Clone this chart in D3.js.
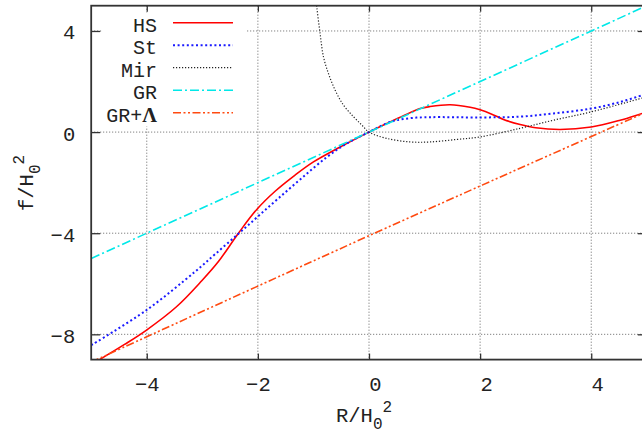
<!DOCTYPE html>
<html>
<head>
<meta charset="utf-8">
<script src="https://cdn.jsdelivr.net/npm/d3@7"></script>
<style>
  html, body { margin: 0; padding: 0; background: #fff; }
  svg { display: block; }
  text { font-family: "Liberation Mono", "DejaVu Sans Mono", monospace; fill: #222; }
</style>
</head>
<body>
<svg id="chart" width="642" height="434"></svg>
<script>
// ---- data ----
const xTicks = [-4, -2, 0, 2, 4];
const yTicks = [-8, -4, 0, 4];

const seriesNames = ["HS", "St", "Mir", "GR", "GR+Λ"];

// Hu–Sawicki (HS)
const hsR = [-5.0, -4.82, -4.40, -4.01, -3.47, -3.01, -2.71, -2.35, -2.02, -1.69, -1.33, -1.00, -0.52, 0.0,
             0.32, 0.62, 0.92, 1.10, 1.46, 1.82, 2.00, 2.20, 2.42, 2.72, 3.00, 3.44, 4.00, 4.52, 4.92, 5.0];
const hsF = [-9.19, -8.96, -8.40, -7.84, -6.92, -5.88, -5.12, -4.00, -3.06, -2.34, -1.70, -1.18, -0.59, 0.0,
             0.34, 0.65, 0.93, 1.01, 1.08, 0.98, 0.88, 0.72, 0.50, 0.30, 0.17, 0.10, 0.20, 0.47, 0.74, 0.79];

// Starobinsky (St)
const stR = [-5.0, -4.01, -3.13, -2.77, -2.35, -1.99, -1.63, -1.21, -0.76, -0.40, 0.0,
             0.38, 0.74, 1.10, 2.00, 2.72, 3.32, 4.00, 4.52, 4.92, 5.0];
const stF = [-8.43, -7.05, -5.52, -4.83, -4.02, -3.32, -2.62, -1.82, -0.99, -0.45, 0.0,
             0.40, 0.55, 0.59, 0.58, 0.61, 0.74, 0.93, 1.19, 1.46, 1.51];

// Miranda et al. (Mir)
const mirR = [-0.97, -0.94, -0.88, -0.82, -0.73, -0.61, -0.46, -0.28, -0.13, 0.0,
              0.32, 0.74, 1.10, 1.58, 2.00, 2.72, 3.32, 4.00, 4.92, 5.0];
const mirF = [5.60, 4.95, 3.90, 2.98, 2.32, 1.66, 1.07, 0.61, 0.28, 0.0,
              -0.25, -0.39, -0.39, -0.29, -0.19, 0.15, 0.47, 0.80, 1.35, 1.40];

// GR
const grR = [-5.0, 5.0];
const grF = [-5.0, 5.0];

// GR + Lambda
const glR = [-5.0, 0.0, 5.0];
const glF = [-9.10, -4.10, 0.80];

// ---- drawing ----
const svg = d3.select("#chart");
const L = 91.2, R = 646.8, T = 5.7, B = 359.6;
const x = d3.scaleLinear().domain([-5, 5]).range([L, R]);
const y = d3.scaleLinear().domain([-9, 5]).range([B, T]);

const styles = [
  { color: "#ff0000", width: 1.6, dash: null },
  { color: "#1a1aff", width: 2.0, dash: "2,2.6" },
  { color: "#222222", width: 1.2, dash: "1.2,1.8" },
  { color: "#00e8e8", width: 1.6, dash: "9,3,2,3" },
  { color: "#ff4a10", width: 1.6, dash: "8,2.5,2,2.5,2,2.5" }
];

svg.append("defs").append("clipPath").attr("id", "clip")
  .append("rect").attr("x", L).attr("y", T).attr("width", R - L).attr("height", B - T);

// grid
const grid = svg.append("g").attr("stroke", "#666").attr("stroke-width", 1)
  .attr("stroke-dasharray", "1,2").attr("fill", "none");
grid.selectAll("line.v").data(xTicks).join("line").attr("class", "v")
  .attr("x1", d => x(d)).attr("x2", d => x(d)).attr("y1", T).attr("y2", B);
grid.selectAll("line.h").data(yTicks).join("line").attr("class", "h")
  .attr("x1", L).attr("x2", R).attr("y1", d => y(d)).attr("y2", d => y(d));

// curves
const series = [
  [hsR, hsF], [stR, stF], [mirR, mirF], [grR, grF], [glR, glF]
];
const line = d3.line().x(d => x(d[0])).y(d => y(d[1])).curve(d3.curveCatmullRom.alpha(0.5));
const curves = svg.append("g").attr("clip-path", "url(#clip)");
series.forEach((s, i) => {
  const pts = s[0].map((r, k) => [r, s[1][k]]);
  curves.append("path").datum(pts).attr("d", line)
    .attr("fill", "none").attr("stroke", styles[i].color)
    .attr("stroke-width", styles[i].width)
    .attr("stroke-dasharray", styles[i].dash);
});

// legend (opaque key box)
svg.append("rect").attr("x", 101.5).attr("y", 12.5).attr("width", 145).attr("height", 114)
  .attr("fill", "#fff");
const leg = svg.append("g");
seriesNames.forEach((name, i) => {
  const base = 31.7 + i * 22.5;
  const t = leg.append("text").attr("x", 157).attr("y", base)
    .attr("text-anchor", "end").attr("font-size", 20);
  if (name.endsWith("Λ")) {
    t.append("tspan").text("GR+");
    t.append("tspan").text("Λ").attr("font-family", "Liberation Serif")
      .attr("font-size", 20.5).attr("font-weight", "bold");
  } else {
    t.text(name);
  }
  leg.append("line").attr("x1", 173).attr("x2", 233)
    .attr("y1", base - 9).attr("y2", base - 9)
    .attr("stroke", styles[i].color).attr("stroke-width", styles[i].width)
    .attr("stroke-dasharray", styles[i].dash);
});

// axes (ticks inward, mirrored)
const fmt = d => (d < 0 ? "\u2212" + Math.abs(d) : String(d));
const axStyle = g => {
  g.select(".domain").remove();
  g.selectAll(".tick line").attr("stroke", "#333").attr("stroke-width", 1.3);
};
svg.append("g").attr("transform", `translate(0,${B})`)
  .call(d3.axisBottom(x).tickValues(xTicks).tickSize(-6).tickFormat(fmt))
  .call(axStyle)
  .call(g => g.selectAll(".tick text")
    .attr("y", 31).attr("dy", 0).attr("font-size", 20.5)
    .attr("font-family", "Liberation Mono").attr("fill", "#222")
    .attr("dx", d => d >= 0 ? 6 : 0));
svg.append("g").attr("transform", `translate(0,${T})`)
  .call(d3.axisTop(x).tickValues(xTicks).tickSize(-6).tickFormat(""))
  .call(axStyle);
svg.append("g").attr("transform", `translate(${L},0)`)
  .call(d3.axisLeft(y).tickValues(yTicks).tickSize(-9).tickFormat(fmt))
  .call(axStyle)
  .call(g => g.selectAll(".tick text")
    .attr("x", -16).attr("dy", 8).attr("font-size", 20.5)
    .attr("font-family", "Liberation Mono").attr("fill", "#222"));
svg.append("g").attr("transform", `translate(${R},0)`)
  .call(d3.axisRight(y).tickValues(yTicks).tickSize(-9).tickFormat(""))
  .call(axStyle);

// frame
svg.append("rect").attr("x", L).attr("y", T).attr("width", R - L).attr("height", B - T)
  .attr("fill", "none").attr("stroke", "#333").attr("stroke-width", 1.8);

// axis titles
const xl = svg.append("text").attr("x", 336).attr("y", 421.5).attr("font-size", 20.5);
xl.append("tspan").text("R/H");
xl.append("tspan").text("0").attr("dy", 7).attr("font-size", 16);
xl.append("tspan").text("2").attr("dy", -17).attr("font-size", 16);

const yl = svg.append("text").attr("transform", "translate(33.3,211) rotate(-90)")
  .attr("font-size", 20.5);
yl.append("tspan").text("f/H");
yl.append("tspan").text("0").attr("dy", 7).attr("font-size", 16);
yl.append("tspan").text("2").attr("dy", -16).attr("font-size", 16);
</script>
</body>
</html>
